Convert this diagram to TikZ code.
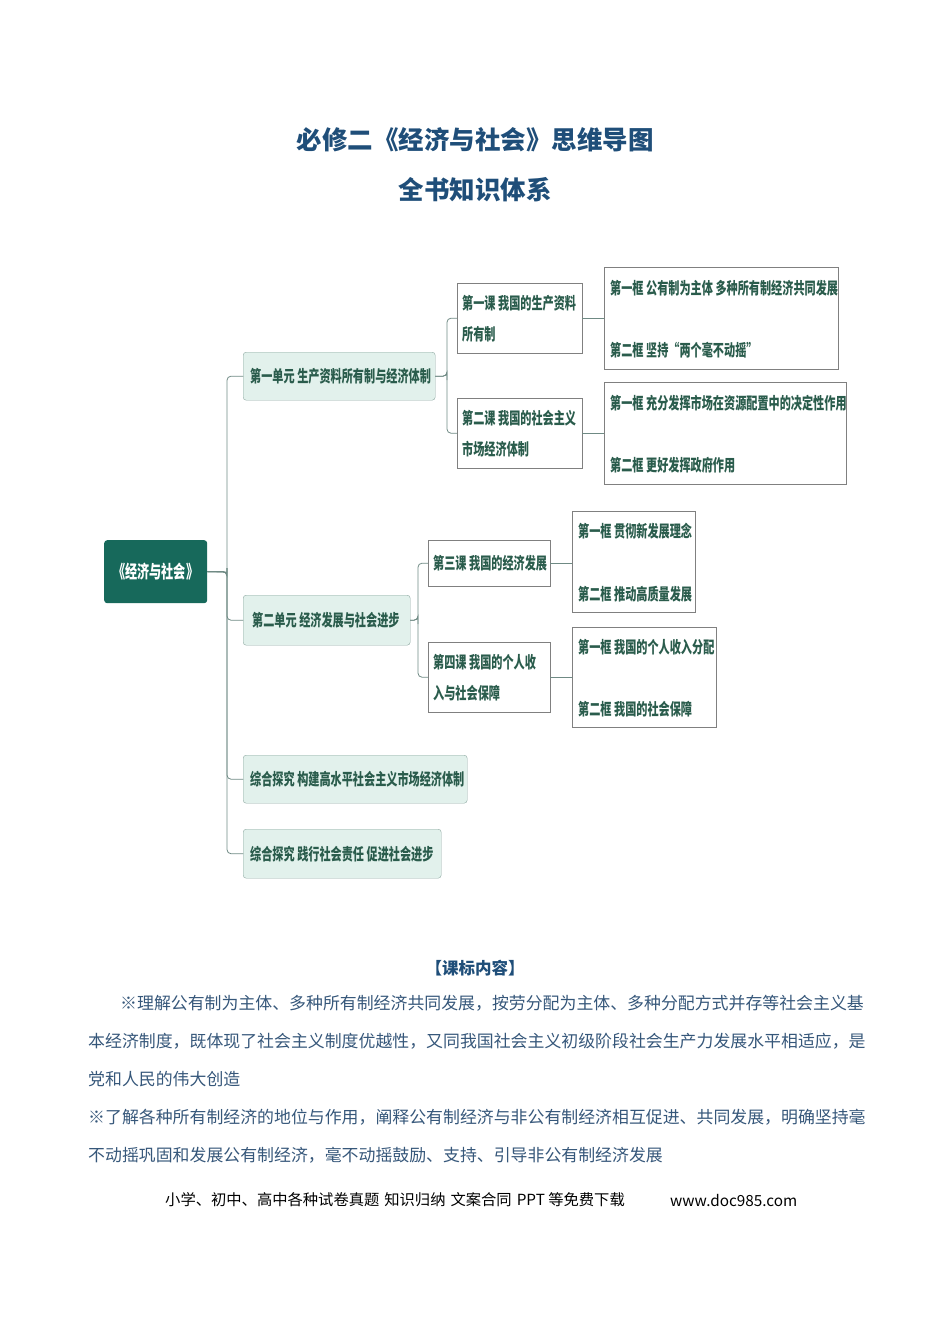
\documentclass[tikz,border=0pt]{standalone}
\usepackage{fontspec}
\setmainfont{Noto Sans CJK SC}
\usepackage{graphicx}
\usetikzlibrary{calc}
\definecolor{titleblue}{HTML}{1F4E79}
\definecolor{rootgreen}{HTML}{17695B}
\definecolor{unitfill}{HTML}{E2F1EC}
\definecolor{unitline}{HTML}{8FA9A2}
\definecolor{mapgreen}{HTML}{2A5C4C}
\definecolor{linkgray}{HTML}{6F8A84}
\definecolor{bodyblue}{HTML}{36577A}
\newcommand{\mm}[1]{\scalebox{0.675}[1]{\bfseries #1}}

\begin{document}
\begin{tikzpicture}[x=1pt, y=-1pt, line cap=round,
    unit/.style={draw=unitline, fill=unitfill, rounded corners=3pt, inner sep=0pt, anchor=north west},
    lesson/.style={draw=gray, fill=white, inner sep=0pt, anchor=north west},
    mtext/.style={text=mapgreen, font=\fontsize{16.5}{24}\selectfont, anchor=west, inner sep=0pt},
    link/.style={draw=linkgray, line width=0.8pt, rounded corners=4pt},
    body/.style={text=bodyblue, font=\fontsize{16.9}{20}\selectfont, anchor=west, inner sep=0pt}]

    \useasboundingbox (0,0) rectangle (950,1344);

    % titles
    \node [text=titleblue, font=\fontsize{25.5}{28}\selectfont\bfseries] (title) at (475,140) {必修二《经济与社会》思维导图};
    \node [text=titleblue, font=\fontsize{25.5}{28}\selectfont\bfseries] (subtitle) at (475,190) {全书知识体系};

    % root
    \node [fill=rootgreen, rounded corners=3pt, minimum width=103pt, minimum height=63pt, anchor=north west, inner sep=0pt] (root) at (104,540) {};
    \node [text=white, font=\fontsize{18}{24}\selectfont] at (root.center) {\mm{《经济与社会》}};

    % units
    \node [unit, minimum width=192pt, minimum height=48pt] (u1) at (243,352) {};
    \node [mtext] at ($(u1.west)+(7,0)$) {\mm{第一单元 生产资料所有制与经济体制}};
    \node [unit, minimum width=167pt, minimum height=50pt] (u2) at (243,595) {};
    \node [mtext] at ($(u2.west)+(9,0)$) {\mm{第二单元 经济发展与社会进步}};
    \node [unit, minimum width=224pt, minimum height=48pt] (u3) at (243,755) {};
    \node [mtext] at ($(u3.west)+(7,0)$) {\mm{综合探究 构建高水平社会主义市场经济体制}};
    \node [unit, minimum width=198pt, minimum height=49pt] (u4) at (243,829) {};
    \node [mtext] at ($(u4.west)+(7,0)$) {\mm{综合探究 践行社会责任 促进社会进步}};

    % lessons
    \node [lesson, minimum width=125pt, minimum height=70pt] (l1) at (457,283) {};
    \node [mtext] at ($(l1.north west)+(5,20)$) {\mm{第一课 我国的生产资料}};
    \node [mtext] at ($(l1.north west)+(5,51)$) {\mm{所有制}};
    \node [lesson, minimum width=125pt, minimum height=70pt] (l2) at (457,398) {};
    \node [mtext] at ($(l2.north west)+(5,20)$) {\mm{第二课 我国的社会主义}};
    \node [mtext] at ($(l2.north west)+(5,51)$) {\mm{市场经济体制}};
    \node [lesson, minimum width=122pt, minimum height=46pt] (l3) at (428,540) {};
    \node [mtext] at ($(l3.west)+(5,0)$) {\mm{第三课 我国的经济发展}};
    \node [lesson, minimum width=122pt, minimum height=70pt] (l4) at (428,642) {};
    \node [mtext] at ($(l4.north west)+(5,20)$) {\mm{第四课 我国的个人收}};
    \node [mtext] at ($(l4.north west)+(5,51)$) {\mm{入与社会保障}};

    % frames
    \node [lesson, minimum width=234pt, minimum height=102pt] (f1) at (604,267) {};
    \node [mtext] at ($(f1.north west)+(6,21)$) {\mm{第一框 公有制为主体 多种所有制经济共同发展}};
    \node [mtext] at ($(f1.north west)+(6,83)$) {\mm{第二框 坚持“两个毫不动摇”}};
    \node [lesson, minimum width=242pt, minimum height=102pt] (f2) at (604,382) {};
    \node [mtext] at ($(f2.north west)+(6,21)$) {\mm{第一框 充分发挥市场在资源配置中的决定性作用}};
    \node [mtext] at ($(f2.north west)+(6,83)$) {\mm{第二框 更好发挥政府作用}};
    \node [lesson, minimum width=123pt, minimum height=101pt] (f3) at (572,511) {};
    \node [mtext] at ($(f3.north west)+(6,20)$) {\mm{第一框 贯彻新发展理念}};
    \node [mtext] at ($(f3.north west)+(6,83)$) {\mm{第二框 推动高质量发展}};
    \node [lesson, minimum width=144pt, minimum height=100pt] (f4) at (572,627) {};
    \node [mtext] at ($(f4.north west)+(6,20)$) {\mm{第一框 我国的个人收入分配}};
    \node [mtext] at ($(f4.north west)+(6,82)$) {\mm{第二框 我国的社会保障}};

    % connectors
    \coordinate (s0) at (227,572);
    \draw [link] (root.east) -- (s0);
    \foreach \u in {u1,u2,u3,u4}
        \draw [link] (root.east) -| (s0) |- (\u.west);
    \coordinate (s1) at (447,376);
    \foreach \l in {l1,l2}
        \draw [link] (u1.east) -| (s1) |- (\l.west);
    \coordinate (s2) at (418,620);
    \foreach \l in {l3,l4}
        \draw [link] (u2.east) -| (s2) |- (\l.west);
    \draw [link] (l1.east) -- (l1.east -| f1.west);
    \draw [link] (l2.east) -- (l2.east -| f2.west);
    \draw [link] (l3.east) -- (l3.east -| f3.west);
    \draw [link] (l4.east) -- (l4.east -| f4.west);

    % course standard
    \node [text=titleblue, font=\fontsize{16.5}{20}\selectfont\bfseries] (std) at (475,968) {【课标内容】};
    \node [body] at (120,1003) {※理解公有制为主体、多种所有制经济共同发展，按劳分配为主体、多种分配方式并存等社会主义基};
    \node [body] at (88,1041) {本经济制度，既体现了社会主义制度优越性，又同我国社会主义初级阶段社会生产力发展水平相适应，是};
    \node [body] at (88,1079) {党和人民的伟大创造};
    \node [body] at (88,1117) {※了解各种所有制经济的地位与作用，阐释公有制经济与非公有制经济相互促进、共同发展，明确坚持毫};
    \node [body] at (88,1155) {不动摇巩固和发展公有制经济，毫不动摇鼓励、支持、引导非公有制经济发展};

    % footer
    \node [font=\fontsize{15.3}{18}\selectfont, anchor=west, inner sep=0pt] (foot) at (165,1200) {小学、初中、高中各种试卷真题\hspace{5pt}知识归纳\hspace{5pt}文案合同\hspace{5pt}PPT 等免费下载};
    \node [font=\fontsize{15.3}{18}\selectfont, anchor=west, inner sep=0pt] (web) at (670,1200) {www.doc985.com};

\end{tikzpicture}
\end{document}
